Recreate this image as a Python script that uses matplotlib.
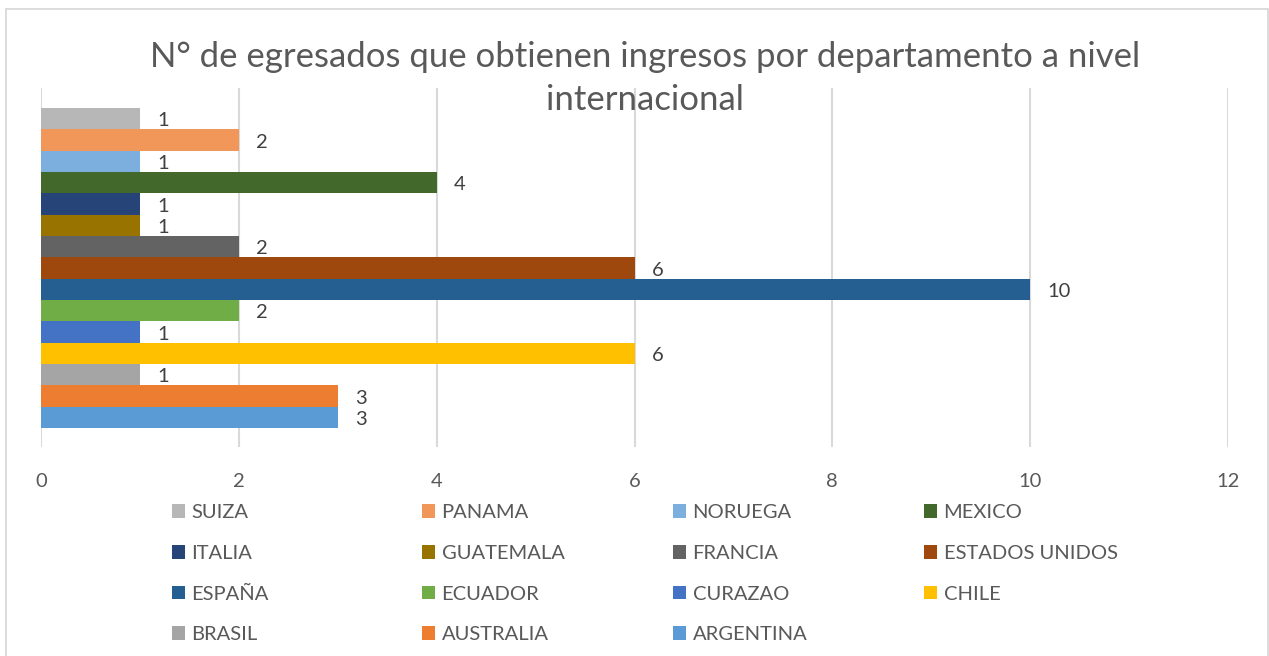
import matplotlib.pyplot as plt
from matplotlib.patches import Rectangle

# Datos del grafico (de abajo hacia arriba)
paises = ['ARGENTINA', 'AUSTRALIA', 'BRASIL', 'CHILE', 'CURAZAO', 'ECUADOR',
          'ESPAÑA', 'ESTADOS UNIDOS', 'FRANCIA', 'GUATEMALA', 'ITALIA',
          'MEXICO', 'NORUEGA', 'PANAMA', 'SUIZA']
egresados = [3, 3, 1, 6, 1, 2, 10, 6, 2, 1, 1, 4, 1, 2, 1]
colores = ['#5B9BD5', '#ED7D31', '#A5A5A5', '#FFC000', '#4472C4', '#70AD47',
           '#255E91', '#9E480E', '#636363', '#997300', '#264478', '#43682B',
           '#7CAFDD', '#F1975A', '#B7B7B7']
titulo = ['N° de egresados que obtienen ingresos por departamento a nivel',
          'internacional']
ticks_x = [0, 2, 4, 6, 8, 10, 12]

plt.rcParams['font.family'] = ['Lato', 'DejaVu Sans']

W, H = 1269, 656
fig = plt.figure(figsize=(W / 100, H / 100), dpi=100)

# Marco del area del grafico
fig.patches.append(Rectangle((6 / W, -0.1), 1262 / W, (H - 9) / H + 0.1,
                             transform=fig.transFigure, fill=False,
                             edgecolor='#D9D9D9', linewidth=1.3))

ax = fig.add_axes([41 / W, (H - 447) / H, (1228 - 41) / W, (447 - 88) / H])

barras = []
for i, (pais, valor, color) in enumerate(zip(paises, egresados, colores)):
    b = ax.barh(i, valor, height=1.0, color=color, label=pais)
    barras.append(b)
    # etiqueta de datos a la derecha de la barra
    ax.annotate(str(valor), xy=(valor, i), xytext=(12.5, -1.5),
                textcoords='offset points', va='center', ha='left',
                fontsize=14.5, color='#404040')

ax.set_xlim(0, 12)
ax.set_ylim(-1.39, 15.44)
ax.set_xticks(ticks_x)
ax.set_yticks([])
ax.tick_params(axis='x', length=0, pad=19, labelsize=14.5, labelcolor='#595959')
for s in ax.spines.values():
    s.set_visible(False)
ax.grid(axis='x', color='#D9D9D9', linewidth=1.5)
ax.set_axisbelow(True)

# Titulo en dos lineas (como en Excel, se superpone al area de trazado)
fig.text(645 / W, (H - 57) / H, titulo[0], ha='center', va='center',
         fontsize=25, color='#595959')
fig.text(645 / W, (H - 100) / H, titulo[1], ha='center', va='center',
         fontsize=25, color='#595959')

# Leyenda en 4 columnas, orden de SUIZA a ARGENTINA
handles = barras[::-1]
nombres = paises[::-1]
col_x = [172, 422, 673, 924]
for j, x in enumerate(col_x):
    fig.legend(handles[j::4], nombres[j::4], loc='upper left',
               bbox_to_anchor=(x / W, (H - 504) / H), frameon=False,
               fontsize=14.5, labelcolor='#595959', handlelength=0.67,
               handleheight=0.67, handletextpad=0.3, labelspacing=1.18,
               borderpad=0, borderaxespad=0)

fig.savefig('out.png', dpi=100)
